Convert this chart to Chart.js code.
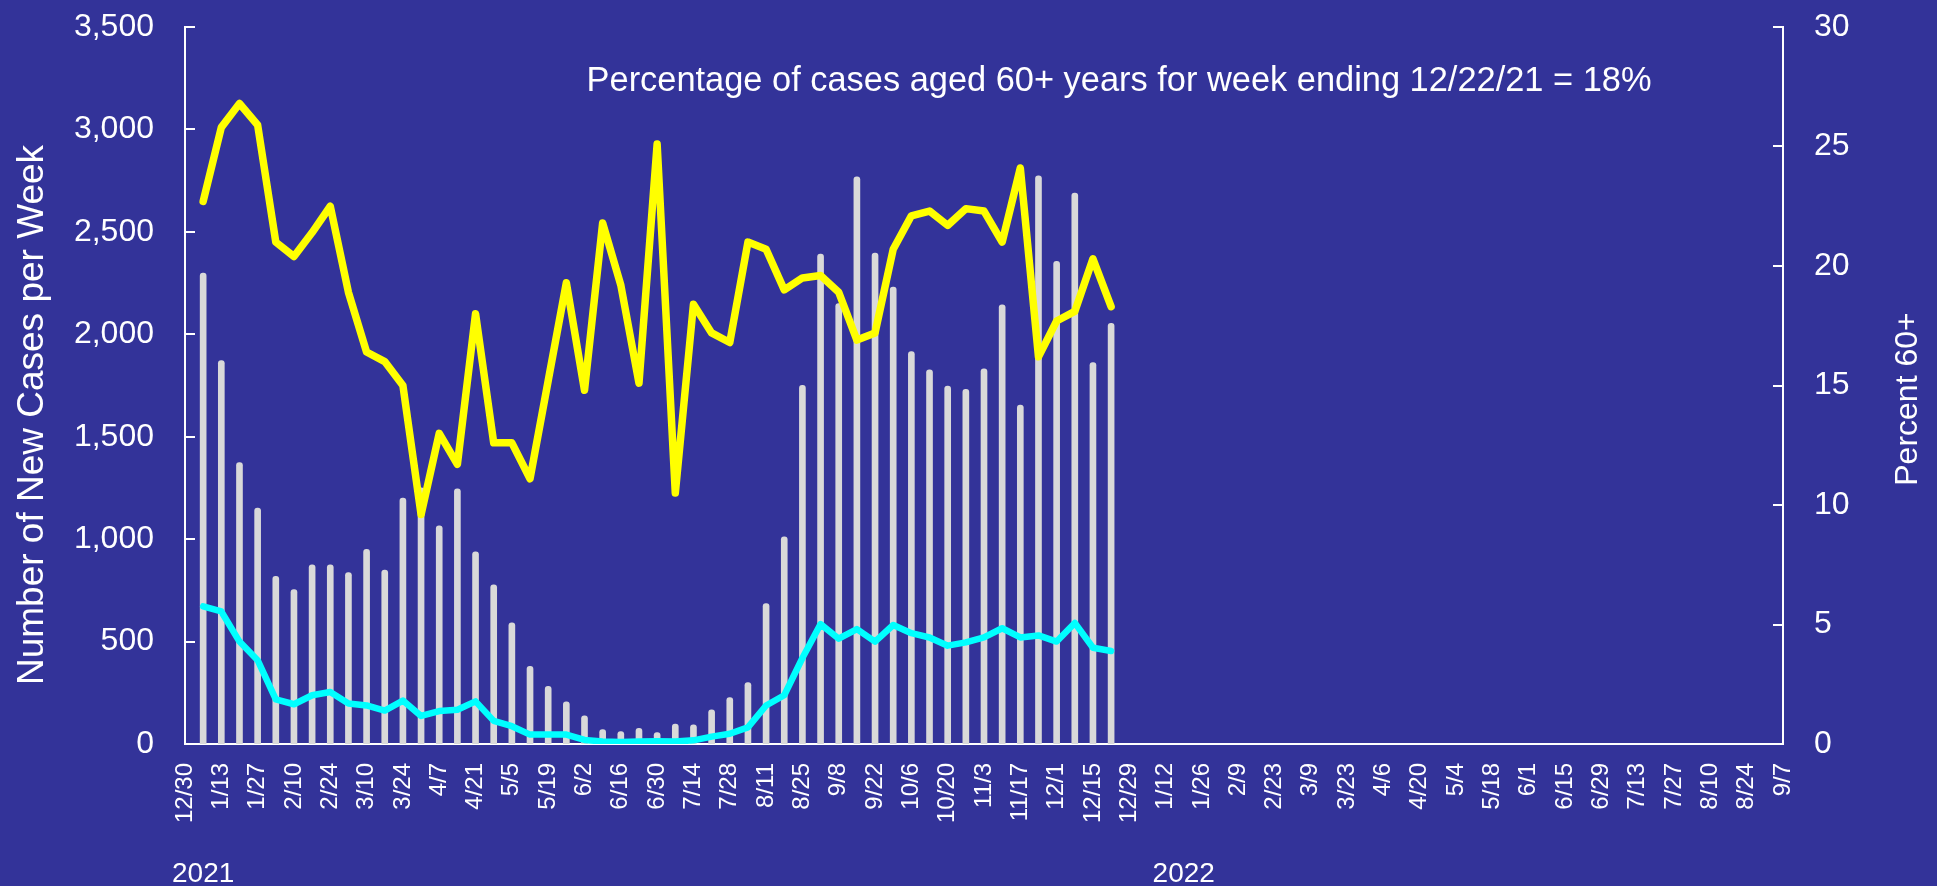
<!DOCTYPE html>
<html>
<head>
<meta charset="utf-8">
<script src="https://cdn.jsdelivr.net/npm/chart.js@4.4.1/dist/chart.umd.min.js"></script>
<style>
  html, body { margin: 0; padding: 0; background: #333399; }
  #wrap { width: 1937px; height: 886px; }
</style>
</head>
<body>
<div id="wrap"><canvas id="c" width="1937" height="886"></canvas></div>
<script>
// Week-ending dates, 12/30/2020 through 9/7/2022
const weekLabels = [
  '12/30','1/6','1/13','1/20','1/27','2/3','2/10','2/17','2/24','3/3','3/10','3/17','3/24','3/31',
  '4/7','4/14','4/21','4/28','5/5','5/12','5/19','5/26','6/2','6/9','6/16','6/23','6/30','7/7',
  '7/14','7/21','7/28','8/4','8/11','8/18','8/25','9/1','9/8','9/15','9/22','9/29','10/6','10/13',
  '10/20','10/27','11/3','11/10','11/17','11/24','12/1','12/8','12/15','12/22','12/29',
  '1/5','1/12','1/19','1/26','2/2','2/9','2/16','2/23','3/2','3/9','3/16','3/23','3/30','4/6',
  '4/13','4/20','4/27','5/4','5/11','5/18','5/25','6/1','6/8','6/15','6/22','6/29','7/6','7/13',
  '7/20','7/27','8/3','8/10','8/17','8/24','8/31','9/7'
];
// Data weeks: 1/6/21 .. 12/22/21
const newCases = [
  2299,1872,1374,1152,819,754,875,875,837,950,849,1200,1250,1065,1246,938,777,
  591,379,282,206,137,71,61,77,56,97,93,167,226,300,686,1011,1751,
  2392,2150,2769,2396,2231,1916,1827,1747,1731,1831,2144,1654,2773,2356,2689,1862,2053
];
const cases60 = [
  672,647,500,409,218,194,238,254,198,188,163,212,137,161,167,208,113,
  87,46,46,46,20,12,10,12,14,12,18,36,50,81,188,238,420,
  585,514,561,500,581,541,520,480,496,520,565,520,530,500,591,470,454
];
const percent60 = [
  22.7,25.8,26.8,25.9,21.0,20.4,21.4,22.5,18.9,16.4,16.0,15.0,9.6,13.0,11.7,18.0,12.6,
  12.6,11.1,15.2,19.3,14.8,21.8,19.2,15.1,25.1,10.5,18.4,17.2,16.8,21.0,20.7,19.0,19.5,
  19.6,18.9,16.9,17.2,20.7,22.1,22.3,21.7,22.4,22.3,21.0,24.1,16.2,17.7,18.1,20.3,18.3
];
const yearLabels = ['2021', '2022'];
const leftTitle = 'Number of New Cases per Week';
const rightTitle = 'Percent 60+';
const noteText = 'Percentage of cases aged 60+ years for week ending 12/22/21 = 18%';

// place series on the weekly axis (first data week is index 1)
function pad(arr) {
  const out = [null].concat(arr);
  while (out.length < weekLabels.length) out.push(null);
  return out;
}

const FONT = "'Liberation Sans', Arial, Helvetica, sans-serif";
const WHITE = '#ffffff';

function vText(ctx, text, cx, cy, size) {
  ctx.save();
  ctx.translate(cx, cy);
  ctx.rotate(-Math.PI / 2);
  ctx.font = size + 'px ' + FONT;
  ctx.textAlign = 'center';
  ctx.textBaseline = 'middle';
  ctx.fillText(text, 0, 0);
  ctx.restore();
}

const decor = {
  id: 'decor',
  afterDraw(chart) {
    const ctx = chart.ctx;
    const yl = chart.scales.y, yr = chart.scales.y1, x = chart.scales.x;
    ctx.save();
    ctx.strokeStyle = WHITE;
    ctx.lineWidth = 2;
    yl.ticks.forEach(t => {
      const py = Math.round(yl.getPixelForValue(t.value));
      ctx.beginPath(); ctx.moveTo(yl.right, py); ctx.lineTo(yl.right + 10, py); ctx.stroke();
    });
    yr.ticks.forEach(t => {
      const py = Math.round(yr.getPixelForValue(t.value));
      ctx.beginPath(); ctx.moveTo(yr.left, py); ctx.lineTo(yr.left - 10, py); ctx.stroke();
    });
    ctx.fillStyle = WHITE;
    ctx.font = '28px ' + FONT;
    ctx.textAlign = 'center';
    ctx.textBaseline = 'alphabetic';
    ctx.fillText(yearLabels[0], x.getPixelForValue(1), 882);
    ctx.fillText(yearLabels[1], x.getPixelForValue(55), 882);
    const ca = chart.chartArea;
    ctx.font = '34.4px ' + FONT;
    ctx.fillText(noteText, ca.left + (ca.right - ca.left) * 0.5845, 91);
    vText(ctx, leftTitle, 33, 415, 37);
    vText(ctx, rightTitle, 1908, 399, 32);
    ctx.restore();
  }
};

function fixVertical(width) {
  return s => { s.width = width; s.paddingTop = 0; s.paddingBottom = 0; };
}

new Chart(document.getElementById('c'), {
  data: {
    labels: weekLabels,
    datasets: [
      {
        type: 'line', label: 'Percent 60+', data: pad(percent60), yAxisID: 'y1',
        borderColor: '#ffff00', borderWidth: 7.5, pointRadius: 0, tension: 0,
        borderJoinStyle: 'round', borderCapStyle: 'round', order: 1
      },
      {
        type: 'line', label: 'Cases aged 60+', data: pad(cases60), yAxisID: 'y',
        borderColor: '#00ffff', borderWidth: 6.5, pointRadius: 0, tension: 0,
        borderJoinStyle: 'round', borderCapStyle: 'round', order: 2
      },
      {
        type: 'bar', label: 'New Cases', data: pad(newCases), yAxisID: 'y',
        backgroundColor: '#d9d9d9', barThickness: 6, borderRadius: 3, order: 3
      }
    ]
  },
  options: {
    responsive: false,
    animation: false,
    devicePixelRatio: 1,
    layout: { padding: { top: 27, left: 0, right: 0, bottom: 0 } },
    plugins: { legend: { display: false }, tooltip: { enabled: false } },
    scales: {
      x: {
        type: 'category', offset: false,
        grid: { display: false, drawTicks: false },
        border: { display: true, color: WHITE, width: 2 },
        ticks: {
          autoSkip: false, maxRotation: 90, minRotation: 90, padding: 19,
          color: WHITE, font: { family: FONT, size: 24 },
          callback: function(v, i) { return i % 2 === 0 ? weekLabels[i] : ''; }
        },
        afterFit: s => { s.height = 142; }
      },
      y: {
        position: 'left', min: 0, max: 3500,
        grid: { display: false, drawTicks: false },
        border: { display: true, color: WHITE, width: 2 },
        ticks: { stepSize: 500, padding: 31, color: WHITE, font: { family: FONT, size: 32 } },
        afterFit: fixVertical(185)
      },
      y1: {
        position: 'right', min: 0, max: 30,
        grid: { display: false, drawTicks: false },
        border: { display: true, color: WHITE, width: 2 },
        ticks: { stepSize: 5, padding: 31, color: WHITE, font: { family: FONT, size: 32 } },
        afterFit: fixVertical(154)
      }
    }
  },
  plugins: [decor]
});
</script>
</body>
</html>
